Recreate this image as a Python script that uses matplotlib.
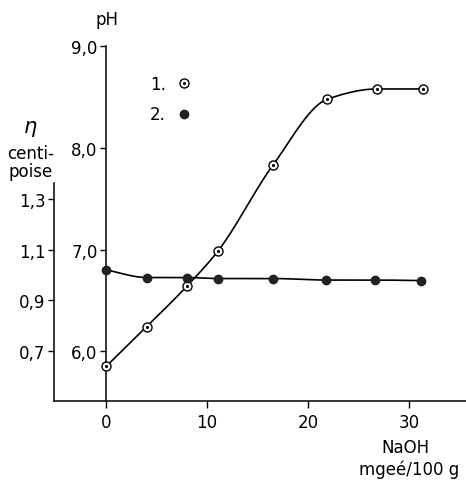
"""Viscosity and pH versus added NaOH (scanned figure redraw)."""

import matplotlib

matplotlib.use("Agg")
import matplotlib.pyplot as plt
from matplotlib.legend_handler import HandlerTuple
from matplotlib.lines import Line2D
from matplotlib.ticker import FuncFormatter
import numpy as np

W, H = 466, 481

# series 1: pH
naoh_ph = [0, 4, 8, 11.1, 16.5, 21.9, 26.8, 31.3]
ph = [5.85, 6.24, 6.64, 6.99, 7.83, 8.48, 8.58, 8.58]

# series 2: viscosity (centipoise)
naoh_eta = [0, 4, 8, 11.1, 16.5, 21.8, 26.6, 31.1]
eta = [1.02, 0.99, 0.99, 0.986, 0.986, 0.98, 0.98, 0.978]

ph_ticks = [6, 7, 8, 9]
eta_ticks = [0.7, 0.9, 1.1, 1.3]
x_ticks = [0, 10, 20, 30]


def pchip(x, y, xs):
    x = np.asarray(x, float)
    y = np.asarray(y, float)
    h = np.diff(x)
    d = np.diff(y) / h
    m = np.zeros_like(y)
    m[0], m[-1] = d[0], d[-1]
    for k in range(1, len(x) - 1):
        if d[k - 1] * d[k] <= 0:
            m[k] = 0.0
        else:
            w1 = 2 * h[k] + h[k - 1]
            w2 = h[k] + 2 * h[k - 1]
            m[k] = (w1 + w2) / (w1 / d[k - 1] + w2 / d[k])
    idx = np.clip(np.searchsorted(x, xs) - 1, 0, len(x) - 2)
    t = (xs - x[idx]) / h[idx]
    h00 = 2 * t**3 - 3 * t**2 + 1
    h10 = t**3 - 2 * t**2 + t
    h01 = -2 * t**3 + 3 * t**2
    h11 = t**3 - t**2
    return (h00 * y[idx] + h10 * h[idx] * m[idx]
            + h01 * y[idx + 1] + h11 * h[idx] * m[idx + 1])


def fx(px):
    return px / W


def fy(py):
    return 1 - py / H


comma = FuncFormatter(lambda v, _: f"{v:.1f}".replace(".", ","))

fig = plt.figure(figsize=(W / 100, H / 100), dpi=100)
ax = fig.add_axes([fx(54), fy(402), fx(466) - fx(54), fy(30) - fy(402)])
ax.patch.set_visible(False)

x_lo, x_hi = -5.15, 35.6
ph_lo, ph_hi = 5.51, 9.17
ax.set_xlim(x_lo, x_hi)
ax.set_ylim(ph_lo, ph_hi)

# eta axis shares the same vertical scale: pH = 6 + (eta - 0.7) * 2.5
ax2 = ax.twinx()
ax2.set_ylim((ph_lo - 6) / 2.5 + 0.7, (ph_hi - 6) / 2.5 + 0.7)

for a in (ax, ax2):
    for s in ("top", "right", "left", "bottom"):
        a.spines[s].set_visible(False)

ax.spines["bottom"].set_visible(True)
ax.spines["bottom"].set_linewidth(1.1)
ax.spines["left"].set_visible(True)
ax.spines["left"].set_position(("data", 0))
ax.spines["left"].set_bounds(ph_lo, 9.0)
ax.spines["left"].set_linewidth(1.1)

ax2.yaxis.set_ticks_position("left")
ax2.yaxis.set_label_position("left")
ax2.spines["left"].set_visible(True)
ax2.spines["left"].set_position(("axes", 0))
ax2.spines["left"].set_bounds(ax2.get_ylim()[0], 1.36)
ax2.spines["left"].set_linewidth(1.1)

ax.set_xticks(x_ticks)
ax.set_yticks(ph_ticks)
ax.yaxis.set_major_formatter(comma)
ax2.set_yticks(eta_ticks)
ax2.yaxis.set_major_formatter(comma)
ax.tick_params(axis="x", length=5, width=1, labelsize=12, pad=4)
ax.tick_params(axis="y", length=4, width=1, labelsize=12, pad=2)
ax2.tick_params(axis="y", length=4, width=1, labelsize=12, pad=2)

xs1 = np.linspace(naoh_ph[0], naoh_ph[-1], 400)
ax.plot(xs1, pchip(naoh_ph, ph, xs1), color="black", lw=1.2, zorder=2)
ax.plot(naoh_ph, ph, "o", ms=6.5, mfc="white", mec="black", mew=1.0, zorder=3)
ax.plot(naoh_ph, ph, ".", ms=2.5, color="black", zorder=4)

xs2 = np.linspace(naoh_eta[0], naoh_eta[-1], 400)
ax2.plot(xs2, pchip(naoh_eta, eta, xs2), color="black", lw=1.2, zorder=2)
ax2.plot(naoh_eta, eta, "o", ms=6, color="#222222", zorder=3)

h1 = (Line2D([], [], marker="o", ls="none", ms=6.5, mfc="white",
             mec="black", mew=1.0),
      Line2D([], [], marker=".", ls="none", ms=2.5, color="black"))
h2 = Line2D([], [], marker="o", ls="none", ms=6, color="#222222")
ax2.legend([h1, h2], ["1.", "2."], markerfirst=False, frameon=False,
           loc="upper left", bbox_to_anchor=(fx(135), fy(61)),
           bbox_transform=fig.transFigure, fontsize=12, handlelength=1.0,
           handletextpad=0.6, labelspacing=0.75,
           handler_map={tuple: HandlerTuple(ndivide=1, pad=0)})

fig.text(fx(107), fy(20), "pH", ha="center", va="center", fontsize=12)
fig.text(fx(30), fy(127), "η", ha="center", va="center", fontsize=15,
         style="italic")
fig.text(fx(31), fy(163), "centi-\npoise", ha="center", va="center",
         fontsize=12, linespacing=0.95)
fig.text(fx(405), fy(448), "NaOH", ha="center", va="center", fontsize=12)
fig.text(fx(409), fy(470), "mgeé/100 g", ha="center", va="center",
         fontsize=12)

fig.savefig("out.png", dpi=100)
